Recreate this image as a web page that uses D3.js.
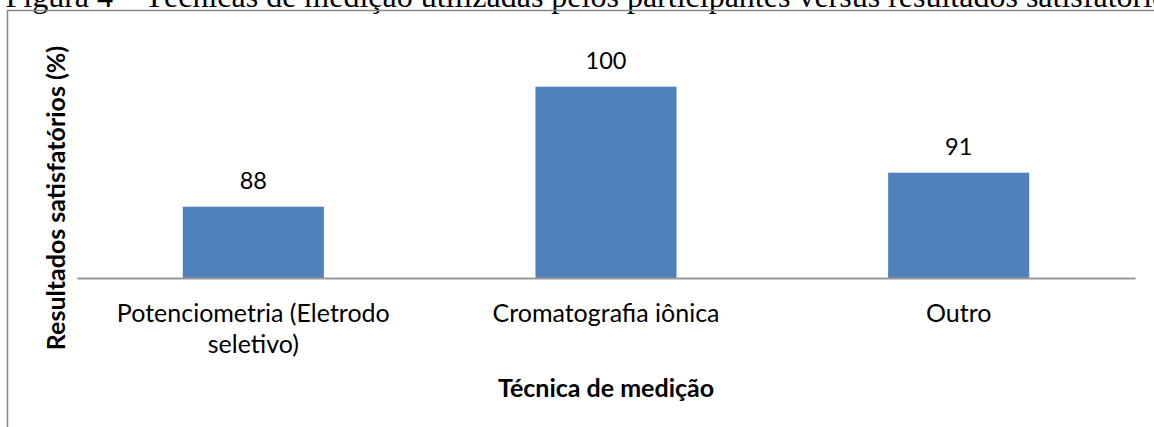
<html>
<head>
<style>
    body { margin: 0; background: #fff; }
    text { font-family: Lato, "Open Sans", sans-serif; fill: #000; }
</style>
</head>
<body>
    <svg id="container" width="1154" height="427"></svg>
</body>
<script src="https://cdn.jsdelivr.net/npm/d3@7"></script>
<script>
    // data
    let categories = ["Potenciometria (Eletrodo seletivo)", "Cromatografia iônica", "Outro"]
    let labelLines = [["Potenciometria (Eletrodo", "seletivo)"], ["Cromatografia iônica"], ["Outro"]]
    let values = [88, 100, 91.4]
    let valueLabels = ["88", "100", "91"]
    let captionText = "Figura 4 – Técnicas de medição utilizadas pelos participantes versus resultados satisfatórios"
    let yTitle = "Resultados satisfatórios (%)"
    let xTitle = "Técnica de medição"

    let container = d3.select("#container")

    // caption of the figure, cut at the top
    let caption = container.append("text")
        .attr("y", 7)
        .style("font-family", "'Liberation Serif', 'Times New Roman', serif")
        .style("font-size", "32px")
        .text(captionText)
    let tmp = container.append("text")
        .style("font-family", "'Liberation Serif', 'Times New Roman', serif")
        .style("font-size", "32px")
        .text("Figura 4 – ")
    let prefix = tmp.node().getComputedTextLength()
    tmp.remove()
    caption.attr("x", 137 - prefix)

    // chart frame
    container.append("rect")
        .attr("x", 7.5)
        .attr("y", 10.5)
        .attr("width", 1400)
        .attr("height", 600)
        .attr("fill", "none")
        .attr("stroke", "#878787")
        .attr("stroke-width", 1.5)

    let xScale = d3.scaleBand()
        .range([77, 1135])
        .domain(categories)
        .paddingInner(0.6)
        .paddingOuter(0.3)

    let yScale = d3.scaleLinear()
        .range([278, 86.7])
        .domain([80.87, 100])

    container.selectAll("rect.bar")
        .data(values)
        .enter()
        .append("rect")
        .attr("class", "bar")
        .attr("fill", "#4F81BD")
        .attr("x", (d, i) => xScale(categories[i]))
        .attr("y", d => yScale(d))
        .attr("width", xScale.bandwidth())
        .attr("height", d => yScale.range()[0] - yScale(d))

    // axis line
    let xAxis = container.append("g")
        .attr("transform", "translate(0,278)")
        .call(d3.axisBottom(xScale).tickSize(0).tickFormat(""))
    xAxis.select(".domain")
        .attr("stroke", "#989898")
        .attr("stroke-width", 2)

    // category labels
    let catLabels = container.selectAll("text.cat")
        .data(categories)
        .enter()
        .append("text")
        .attr("class", "cat")
        .attr("text-anchor", "middle")
        .style("font-size", "25px")
        .attr("x", d => xScale(d) + xScale.bandwidth() / 2)
        .attr("y", 322)
    catLabels.selectAll("tspan")
        .data((d, i) => labelLines[i])
        .enter()
        .append("tspan")
        .attr("x", function () { return this.parentNode.getAttribute("x") })
        .attr("dy", (d, j) => j == 0 ? 0 : 31)
        .text(d => d)

    // value labels
    container.selectAll("text.val")
        .data(values)
        .enter()
        .append("text")
        .attr("class", "val")
        .attr("text-anchor", "middle")
        .style("font-size", "23.5px")
        .attr("x", (d, i) => xScale(categories[i]) + xScale.bandwidth() / 2)
        .attr("y", d => yScale(d) - 18)
        .text((d, i) => valueLabels[i])

    // axis titles
    container.append("text")
        .attr("text-anchor", "middle")
        .style("font-size", "25px")
        .style("font-weight", "bold")
        .attr("x", 606)
        .attr("y", 397)
        .text(xTitle)

    container.append("text")
        .attr("text-anchor", "middle")
        .style("font-size", "25px")
        .style("font-weight", "bold")
        .attr("transform", "translate(65,198) rotate(-90)")
        .text(yTitle)
</script>
</html>
